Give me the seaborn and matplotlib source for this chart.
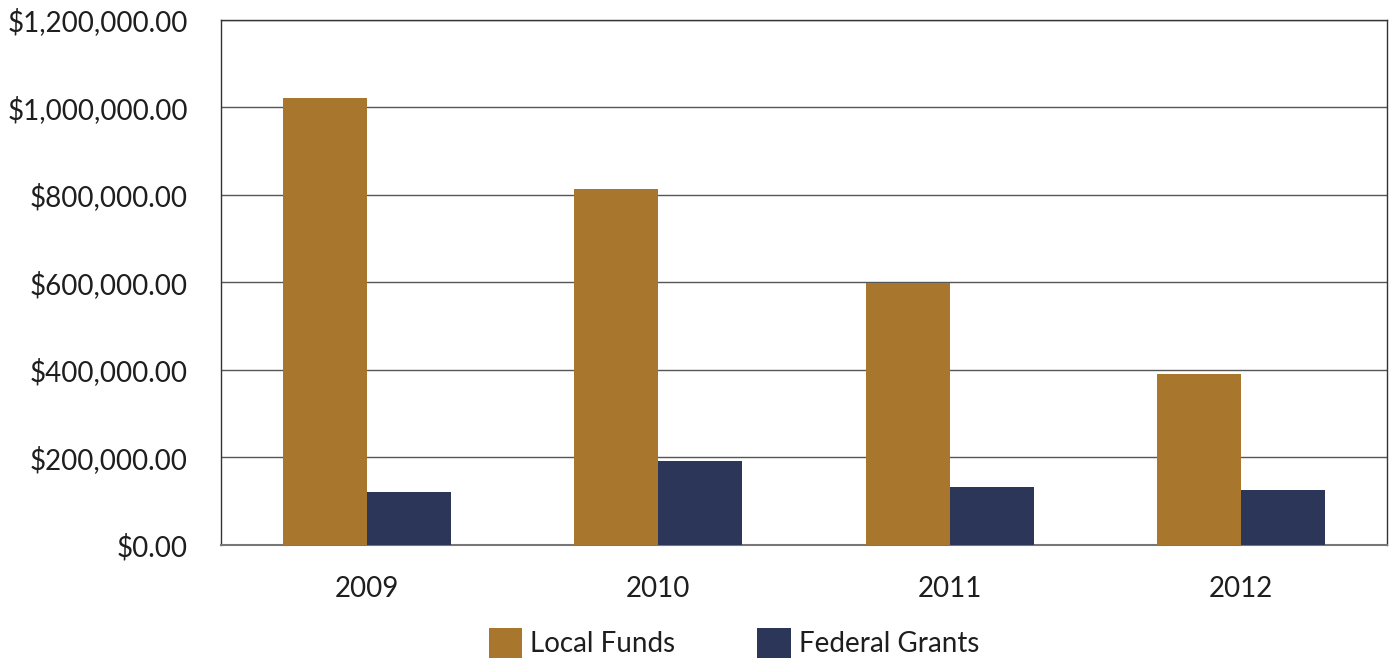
import matplotlib
matplotlib.use("Agg")
import matplotlib.pyplot as plt
import seaborn as sns
import pandas as pd
from matplotlib.ticker import FuncFormatter, MultipleLocator

years = ["2009", "2010", "2011", "2012"]
local_funds = [1021000, 813000, 598000, 390000]
federal_grants = [122000, 191000, 133500, 126500]
series_names = ["Local Funds", "Federal Grants"]
colors = ["#A8762C", "#2B3659"]

df = pd.DataFrame({
    "Year": years * 2,
    "Amount": local_funds + federal_grants,
    "Series": [series_names[0]] * len(years) + [series_names[1]] * len(years),
})

sns.set_theme(style="white")
plt.rcParams["font.family"] = ["Lato", "DejaVu Sans"]

fig = plt.figure(figsize=(13.96, 6.63), dpi=100)
ax = fig.add_axes([0.1583, 0.178, 0.8353, 0.792])

sns.barplot(data=df, x="Year", y="Amount", hue="Series", palette=colors,
            width=0.576, saturation=1, ax=ax, legend=True, errorbar=None,
            linewidth=0, zorder=3)

ax.set_ylim(0, 1200000)
ax.set_xlim(-0.5, 3.5)
ax.yaxis.set_major_locator(MultipleLocator(200000))
ax.yaxis.set_major_formatter(FuncFormatter(lambda v, p: f"${v:,.2f}"))
ax.grid(axis="y", color="#555555", linewidth=1, zorder=0)
ax.set_axisbelow(True)
for s in ax.spines.values():
    s.set_visible(True)
    s.set_color("#333333")
    s.set_linewidth(1)
ax.spines["bottom"].set_color("#777777")
ax.spines["bottom"].set_linewidth(1.5)
ax.set_xlabel("")
ax.set_ylabel("")
ax.tick_params(axis="both", length=0, labelsize=20, labelcolor="#1e1e1e")
ax.tick_params(axis="y", pad=24)
ax.tick_params(axis="x", pad=22)

leg = ax.legend(loc="center", bbox_to_anchor=(734 / 1396, 1 - 643 / 663),
                bbox_transform=fig.transFigure, ncol=2, frameon=False,
                fontsize=20, handlelength=1.2, handleheight=1.25,
                columnspacing=2.95, handletextpad=0.3, labelcolor="#1e1e1e")

fig.savefig("out.png", dpi=100)
